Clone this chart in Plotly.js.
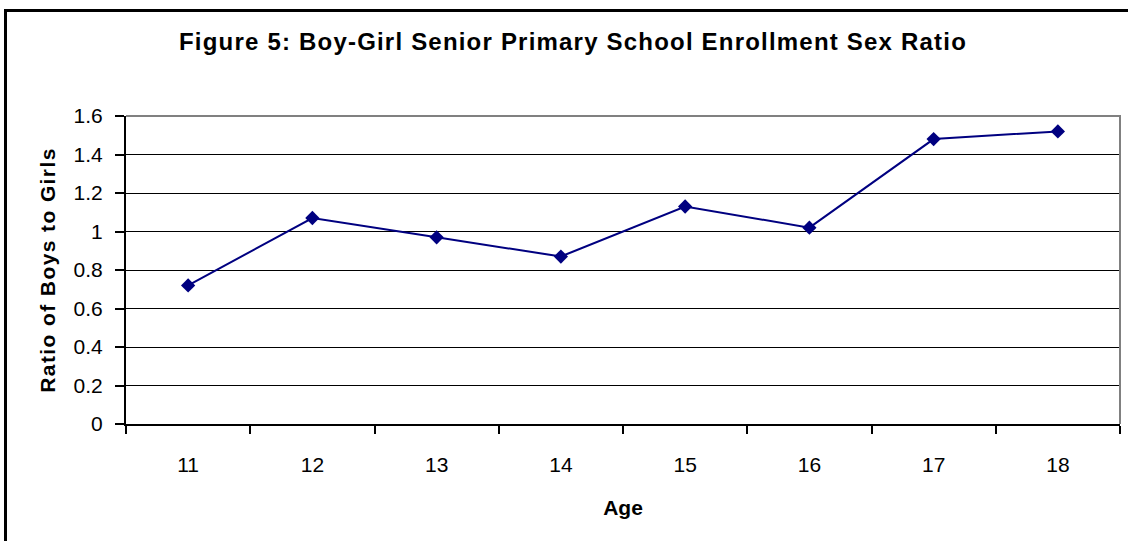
<!DOCTYPE html>
<html>
<head>
<meta charset="utf-8">
<script src="https://cdn.plot.ly/plotly-3.0.1.min.js"></script>
<style>
  html, body { margin: 0; padding: 0; background: #ffffff; }
  #chart { width: 1128px; height: 541px; }
  /* slightly wider set for the chart and axis titles */
  #chart .gtitle { letter-spacing: 1.2px; }
  #chart .ytitle { letter-spacing: 1.4px; }
</style>
</head>
<body>
<div id="chart"></div>
<script>
// Boy-girl enrollment sex ratio in senior primary school, by age
const ages = ['11', '12', '13', '14', '15', '16', '17', '18'];
const ratios = [0.72, 1.07, 0.97, 0.87, 1.13, 1.02, 1.48, 1.52];

const chartTitle = 'Figure 5: Boy-Girl Senior Primary School Enrollment Sex Ratio';
const xTitle = 'Age';
const yTitle = 'Ratio of Boys to Girls';

const W = 1128, H = 541;
const margin = { l: 126, r: 8, t: 116, b: 117, pad: 0 };
const plotW = W - margin.l - margin.r;
const plotH = H - margin.t - margin.b;
// convert page pixels into paper coordinates
const px = x => (x - margin.l) / plotW;
const py = y => (H - margin.b - y) / plotH;

const font = 'Liberation Sans, Arial, sans-serif';

const trace = {
  type: 'scatter',
  mode: 'lines+markers',
  x: ages,
  y: ratios,
  line: { color: '#000080', width: 2 },
  marker: { symbol: 'diamond', size: 11, color: '#000080' },
  hoverinfo: 'x+y'
};

const layout = {
  width: W,
  height: H,
  margin: margin,
  paper_bgcolor: '#ffffff',
  plot_bgcolor: '#ffffff',
  showlegend: false,
  font: { family: font, color: '#000000', size: 21 },
  title: {
    text: '<b>' + chartTitle + '</b>',
    font: { family: font, size: 24, color: '#000000' },
    xref: 'container', x: 573 / W, xanchor: 'center',
    yref: 'container', y: 1 - 42 / H, yanchor: 'middle'
  },
  xaxis: {
    type: 'category',
    categoryorder: 'array',
    categoryarray: ages,
    range: [-0.5, ages.length - 0.5],
    tickson: 'boundaries',
    ticks: 'outside',
    ticklen: 8,
    tickwidth: 2,
    tickcolor: '#000000',
    showline: true,
    linecolor: '#000000',
    linewidth: 2,
    showgrid: false,
    zeroline: false,
    tickfont: { family: font, size: 21, color: '#000000' },
    ticklabelstandoff: 21,
    title: {
      text: '<b>' + xTitle + '</b>',
      font: { family: font, size: 21, color: '#000000' },
      standoff: 25
    },
    fixedrange: true
  },
  yaxis: {
    range: [0, 1.6],
    dtick: 0.2,
    tick0: 0,
    ticks: 'outside',
    ticklen: 9,
    tickwidth: 2,
    tickcolor: '#000000',
    showline: true,
    linecolor: '#000000',
    linewidth: 2,
    showgrid: true,
    gridcolor: '#000000',
    gridwidth: 1,
    zeroline: false,
    tickfont: { family: font, size: 21, color: '#000000' },
    ticklabelstandoff: 8,
    title: {
      text: '<b>' + yTitle + '</b>',
      font: { family: font, size: 21, color: '#000000' },
      standoff: 12
    },
    fixedrange: true
  },
  shapes: [
    // grey plot-area border along the top and right
    {
      type: 'path', xref: 'paper', yref: 'paper',
      path: 'M 0 1 L 1 1 L 1 0',
      line: { color: '#808080', width: 2 },
      layer: 'above'
    },
    // outer chart frame
    {
      type: 'rect', xref: 'paper', yref: 'paper',
      x0: px(5.5), x1: px(1400), y0: py(700), y1: py(10.5),
      line: { color: '#000000', width: 3 },
      fillcolor: 'rgba(0,0,0,0)',
      layer: 'above'
    }
  ]
};

Plotly.newPlot('chart', [trace], layout, { displayModeBar: false, staticPlot: true });
</script>
</body>
</html>
